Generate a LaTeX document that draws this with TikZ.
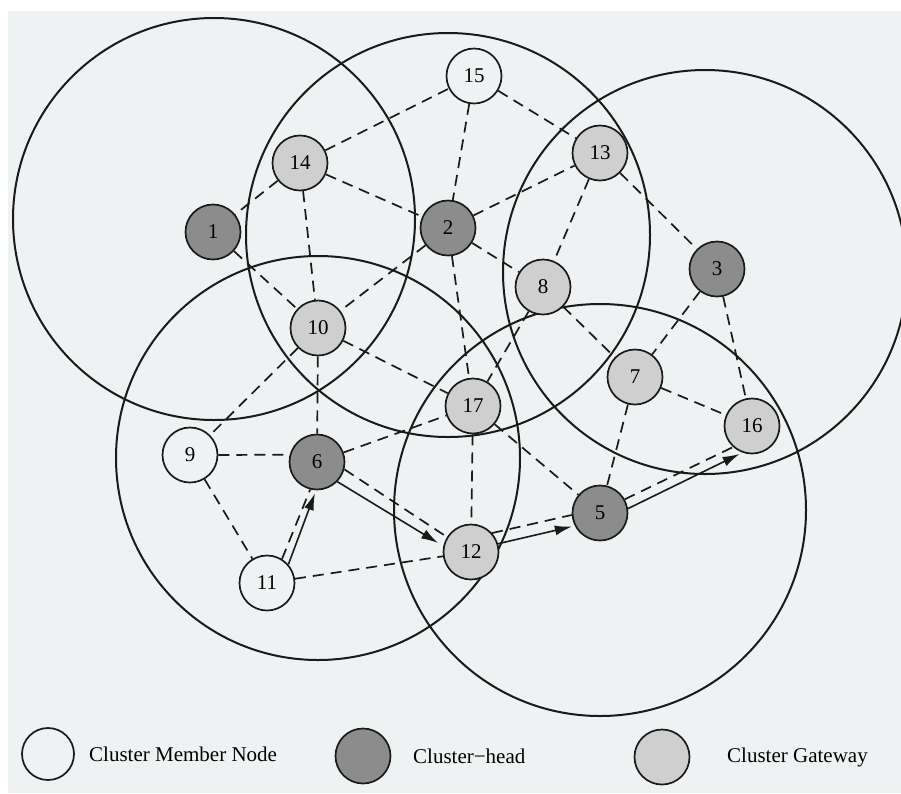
\documentclass[tikz,border=0pt]{standalone}
\usepackage{fontspec}
\setmainfont{Liberation Serif}
\usetikzlibrary{arrows.meta}
\definecolor{page}{HTML}{EEF2F2}
\definecolor{ink}{HTML}{1A1A1A}
\definecolor{headfill}{HTML}{8C8C8C}
\definecolor{gatefill}{HTML}{CFCFCF}
\begin{document}
\begin{tikzpicture}[x=1pt,y=-1pt,
  net/.style={draw=ink,line width=1.7pt,circle,minimum size=55pt,inner sep=0pt,
    font=\fontsize{21}{21}\selectfont},
  member/.style={net,fill=page},
  head/.style={net,fill=headfill},
  gateway/.style={net,fill=gatefill},
  cluster/.style={draw=ink,line width=2pt},
  link/.style={draw=ink,line width=1.7pt,dash pattern=on 11pt off 7pt},
  route/.style={draw=ink,line width=1.6pt,-{Latex[length=17pt,width=10pt]},shorten >=3pt},
  legendtext/.style={font=\fontsize{21}{21}\selectfont,anchor=west,inner sep=0pt}]
\useasboundingbox (0,0) rectangle (901,793);
\fill[white] (0,0) rectangle (901,793);
\fill[page] (8,11) rectangle (901,793);

% cluster ranges
\begin{scope}
\clip (8,11) rectangle (901,793);
\draw[cluster] (214,219) circle[radius=201];
\draw[cluster] (448,235) circle[radius=202];
\draw[cluster] (705,272) circle[radius=202];
\draw[cluster] (318,458) circle[radius=202];
\draw[cluster] (600,510) circle[radius=206];
\end{scope}

% nodes
\node[head]    (n1)  at (213,232) {1};
\node[head]    (n2)  at (448,228) {2};
\node[head]    (n3)  at (717,269) {3};
\node[head]    (n5)  at (600,513) {5};
\node[head]    (n6)  at (317,462) {6};
\node[gateway] (n7)  at (635,377) {7};
\node[gateway] (n8)  at (543,287) {8};
\node[member]  (n9)  at (190,455) {9};
\node[gateway] (n10) at (318,328) {10};
\node[member]  (n11) at (267,583) {11};
\node[gateway] (n12) at (471,552) {12};
\node[gateway] (n13) at (600,153) {13};
\node[gateway] (n14) at (300,163) {14};
\node[member]  (n15) at (474,76)  {15};
\node[gateway] (n16) at (752,426) {16};
\node[gateway] (n17) at (473,406) {17};

% links
\draw[link] (n14) -- (n15);
\draw[link] (n14) -- (n2);
\draw[link] (n14) -- (n1);
\draw[link] (n14) -- (n10);
\draw[link] (n1) -- (n10);
\draw[link] (n2) -- (n10);
\draw[link] (n15) -- (n2);
\draw[link] (n15) -- (n13);
\draw[link] (n2) -- (n13);
\draw[link] (n2) -- (n8);
\draw[link] (n2) -- (n17);
\draw[link] (n13) -- (n8);
\draw[link] (n13) -- (n3);
\draw[link] (n8) -- (n17);
\draw[link] (n8) -- (n7);
\draw[link] (n3) -- (n7);
\draw[link] (n3) -- (n16);
\draw[link] (n7) -- (n16);
\draw[link] (n7) -- (n5);
\draw[link] (n10) -- (n17);
\draw[link] (n10) -- (n6);
\draw[link] (n10) -- (n9);
\draw[link] (n9.east) -- (n6.165);
\draw[link] (n9) -- (n11);
\draw[link] (n6) -- (n17);
\draw[link] (n11) -- (n12);
\draw[link] (n17) -- (n12);
\draw[link] (n17) -- (n5);
\draw[link] (n11.58) -- (n6.256);
\draw[link] (n6.345) -- (n12.148);
\draw[link] (n12.42) -- (n5.184);
\draw[link] (n5.29) -- (n16.228);

% route
\draw[route] (n11.41) -- (n6.268);
\draw[route,shorten >=6pt] (n6.316) -- (n12.168);
\draw[route] (n12.17) -- (n5.207);
\draw[route] (n5.9) -- (n16.250);

% legend
\node[member,minimum size=52pt] (kmember) at (48,754) {};
\node[legendtext] (tmember) at (89,754) {Cluster Member Node};
\node[head] (khead) at (363,756) {};
\node[legendtext] (thead) at (413,756) {Cluster−head};
\node[gateway] (kgate) at (662,757) {};
\node[legendtext] (tgate) at (727,757) {Cluster Gateway};
\end{tikzpicture}
\end{document}
